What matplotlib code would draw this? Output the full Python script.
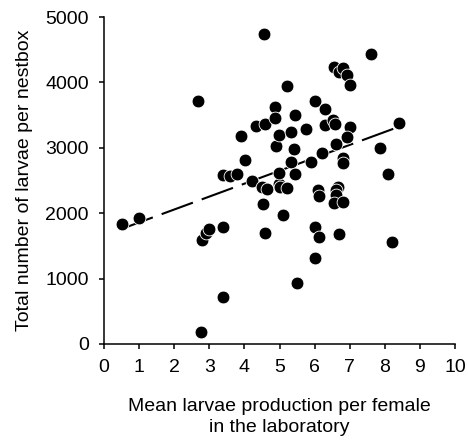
import numpy as np
import matplotlib
matplotlib.use("Agg")
import matplotlib.pyplot as plt

plt.rcParams['font.family'] = ['Liberation Sans', 'DejaVu Sans']

# Mean larvae production per female in the laboratory
x_vals = [0.50, 1.00, 2.67, 2.76, 2.79, 2.90, 3.00, 3.38, 3.40, 3.38,
          3.60, 3.78, 3.89, 4.01, 4.22, 4.34, 4.49, 4.54, 4.57, 4.58,
          4.60, 4.64, 4.87, 4.87, 4.89, 4.98, 4.99, 4.99, 5.00, 5.10,
          5.20, 5.22, 5.33, 5.34, 5.40, 5.44, 5.45, 5.50, 5.75, 5.90,
          6.00, 6.00, 6.00, 6.10, 6.13, 6.13, 6.20, 6.30, 6.30, 6.51,
          6.57, 6.55, 6.70, 6.80, 6.93, 7.00, 7.00, 6.91, 6.60, 6.80,
          6.80, 6.67, 6.60, 6.60, 6.55, 6.80, 6.70, 7.60, 7.85, 8.10,
          8.20, 8.40]
# Total number of larvae per nestbox
y_vals = [1830, 1930, 3720, 180, 1590, 1700, 1755, 1795, 725, 2580,
          2565, 2592, 3185, 2820, 2488, 3338, 2400, 2141, 4745, 3364,
          1690, 2365, 3628, 3450, 3030, 2440, 3195, 2610, 2400, 1970,
          3945, 2390, 3235, 2790, 2977, 3495, 2600, 930, 3285, 2783,
          3718, 1794, 1320, 2350, 2270, 1640, 2916, 3595, 3343, 3420,
          3370, 4230, 4165, 4215, 4113, 3955, 3323, 3170, 3058, 2840,
          2763, 2396, 2355, 2278, 2151, 2176, 1685, 4430, 2995, 2600,
          1555, 3375]

x_ticks = list(range(0, 11))
y_ticks = [0, 1000, 2000, 3000, 4000, 5000]

fig = plt.figure(figsize=(4.68, 4.42), dpi=100)
ax = fig.add_axes([104/468, 1-344/442, (455-104)/468, (344-17)/442])

x = np.array(x_vals)
y = np.array(y_vals)
slope, intercept = np.polyfit(x, y, 1)
xl = np.array([x.min(), x.max()])
ax.plot(xl, slope*xl + intercept, color='black', lw=1.5,
        ls=(0, (16, 4.5)), zorder=2)

ax.scatter(x, y, s=85, facecolor='black', edgecolor='white',
           linewidth=0.6, zorder=3)

ax.set_xlim(0, 10)
ax.set_ylim(0, 5000)
ax.set_xticks(x_ticks)
ax.set_yticks(y_ticks)
ax.spines['top'].set_visible(False)
ax.spines['right'].set_visible(False)
for s in ['left', 'bottom']:
    ax.spines[s].set_linewidth(1.1)
ax.tick_params(direction='out', length=3.8, width=1.1, labelsize=14, pad=7)

ax.set_xlabel('Mean larvae production per female\nin the laboratory',
              fontsize=14, labelpad=16, linespacing=1.3)
ax.set_ylabel('Total number of larvae per nestbox', fontsize=14, labelpad=9)

fig.savefig('out.png', dpi=100)
